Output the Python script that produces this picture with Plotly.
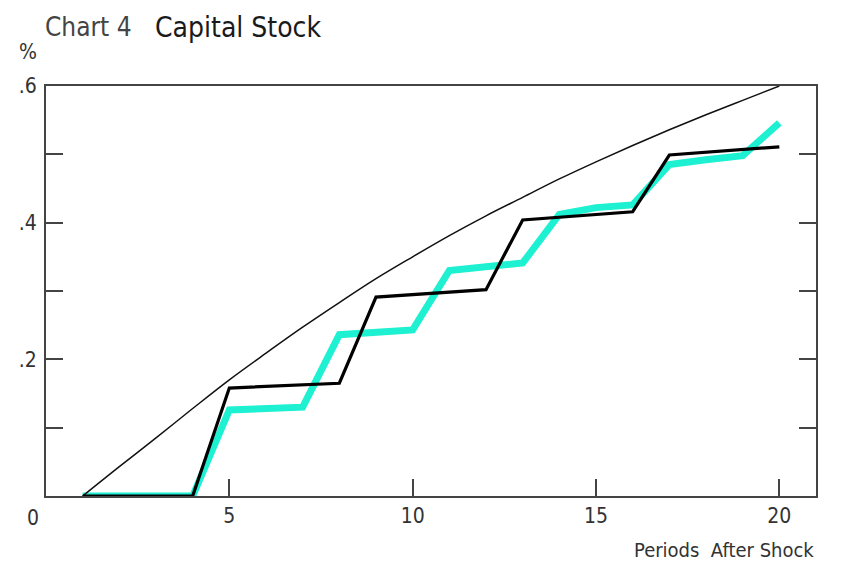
import plotly.graph_objects as go

# Periods after the shock
periods = list(range(1, 21))

# Smooth reference path of the capital stock (%)
smooth_path = [0.000, 0.043, 0.085, 0.128, 0.170, 0.209, 0.247, 0.283, 0.318, 0.350,
               0.381, 0.410, 0.437, 0.464, 0.489, 0.513, 0.536, 0.558, 0.579, 0.600]

# Stepped response, black series (%)
black_path = [0.000, 0.000, 0.000, 0.000, 0.158, 0.160, 0.163, 0.165, 0.291, 0.295,
              0.299, 0.302, 0.404, 0.408, 0.412, 0.416, 0.499, 0.503, 0.507, 0.511]

# Stepped response, turquoise series (%)
cyan_path = [0.000, 0.000, 0.000, 0.000, 0.126, 0.128, 0.130, 0.236, 0.240, 0.243,
             0.330, 0.336, 0.341, 0.412, 0.422, 0.426, 0.485, 0.492, 0.498, 0.546]

x_ticks = [5, 10, 15, 20]
x_tick_text = ["5", "10", "15", "20"]
y_ticks = [0.1, 0.2, 0.3, 0.4, 0.5, 0.6]
y_tick_text = ["", ".2", "", ".4", "", ".6"]

FONT = "DejaVu Sans Condensed, Liberation Sans Narrow, Arial Narrow, sans-serif"
AXIS_COLOR = "#444444"
TEXT_COLOR = "#333333"

fig = go.Figure()

fig.add_trace(go.Scatter(
    x=periods, y=cyan_path, mode="lines",
    line=dict(color="#1EF0D2", width=7), hoverinfo="skip", showlegend=False,
))
fig.add_trace(go.Scatter(
    x=periods, y=smooth_path, mode="lines",
    line=dict(color="#111111", width=1.5, shape="spline", smoothing=1.0),
    hoverinfo="skip", showlegend=False,
))
fig.add_trace(go.Scatter(
    x=periods, y=black_path, mode="lines",
    line=dict(color="#000000", width=3.2), hoverinfo="skip", showlegend=False,
))

fig.update_xaxes(
    range=[0, 21], tickvals=x_ticks, ticktext=x_tick_text,
    ticks="inside", ticklen=17, tickwidth=2, tickcolor=AXIS_COLOR,
    showline=True, linewidth=2, linecolor=AXIS_COLOR, mirror=True,
    showgrid=False, zeroline=False,
    tickfont=dict(family=FONT, size=21, color=TEXT_COLOR),
)
fig.update_yaxes(
    range=[0, 0.6], tickvals=y_ticks, ticktext=y_tick_text,
    ticks="inside", ticklen=17, tickwidth=2, tickcolor=AXIS_COLOR,
    showline=True, linewidth=2, linecolor=AXIS_COLOR, mirror="ticks",
    showgrid=False, zeroline=False, ticklabelstandoff=3,
    tickfont=dict(family=FONT, size=21, color=TEXT_COLOR),
)

annotations = [
    dict(text="Chart 4", xref="paper", yref="paper", x=0, y=1,
         xanchor="left", yanchor="middle", xshift=-3, yshift=59, showarrow=False,
         font=dict(family=FONT, size=26, color="#444444")),
    dict(text="Capital Stock", xref="paper", yref="paper", x=0.1416, y=1,
         xanchor="left", yanchor="middle", xshift=-2, yshift=59, showarrow=False,
         font=dict(family=FONT, size=28, color="#1a1a1a")),
    dict(text="%", xref="paper", yref="paper", x=-0.0234, y=1,
         xanchor="center", yanchor="middle", yshift=34, showarrow=False,
         font=dict(family=FONT, size=21, color=TEXT_COLOR)),
    dict(text="0", xref="paper", yref="paper", x=-0.017, y=0,
         xanchor="center", yanchor="middle", yshift=-22, showarrow=False,
         font=dict(family=FONT, size=21, color=TEXT_COLOR)),
    dict(text="Periods\u00a0 After Shock", xref="paper", yref="paper", x=1, y=0,
         xanchor="right", yanchor="middle", xshift=0, yshift=-54, showarrow=False,
         font=dict(family=FONT, size=20, color=TEXT_COLOR)),
]

fig.update_layout(
    width=842, height=561,
    margin=dict(l=46, r=26, t=86, b=65),
    paper_bgcolor="white", plot_bgcolor="white",
    annotations=annotations,
    showlegend=False,
)

fig.write_html("out.html")
